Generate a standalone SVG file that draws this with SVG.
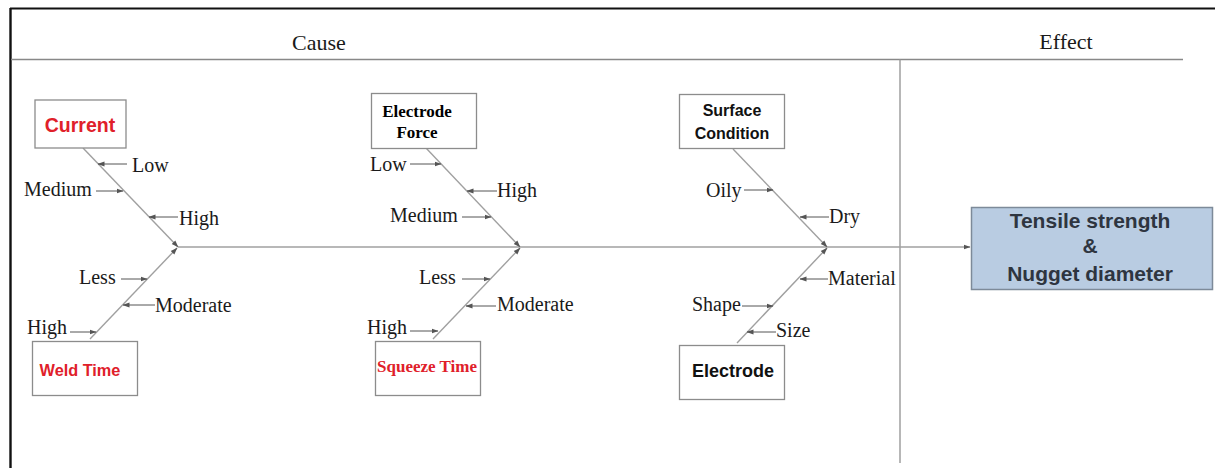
<svg xmlns="http://www.w3.org/2000/svg" width="1215" height="468" viewBox="0 0 1215 468">
<defs>
<marker id="ah" markerUnits="userSpaceOnUse" markerWidth="7" markerHeight="6" refX="6.5" refY="3" orient="auto">
<path d="M0,0.5 L7,3 L0,5.5 z" fill="#555"/>
</marker>
<style>
.lbl{font-family:"Liberation Serif","Times New Roman",serif;font-size:20px;fill:#1a1a1a}
.hdr{font-family:"Liberation Serif","Times New Roman",serif;font-size:22px;fill:#1a1a1a;text-anchor:middle}
.box{fill:#fff;stroke:#8c8c8c;stroke-width:1.3}
.bone{stroke:#a0a0a0;stroke-width:1.4;fill:none}
.tick{stroke:#555;stroke-width:1;fill:none;marker-end:url(#ah)}
.sans{font-family:"Liberation Sans",Arial,sans-serif;font-weight:bold;text-anchor:middle}
.serb{font-family:"Liberation Serif","Times New Roman",serif;font-weight:bold;text-anchor:middle}
.red{fill:#e0202a}
</style>
</defs>
<rect width="1215" height="468" fill="#fff"/>
<g id="frame">
<line x1="10" y1="8.5" x2="1215" y2="8.5" stroke="#111" stroke-width="2.2"/>
<line x1="10.5" y1="8" x2="10.5" y2="468" stroke="#111" stroke-width="2.4"/>
<line x1="11" y1="59.5" x2="1183" y2="59.5" stroke="#888" stroke-width="1.3"/>
<line x1="900" y1="59.5" x2="900" y2="463" stroke="#999" stroke-width="1.4"/>
<text class="hdr" x="319" y="50">Cause</text>
<text class="hdr" x="1066" y="49">Effect</text>
</g>
<g id="connectors">
<line class="bone" x1="178" y1="247" x2="970" y2="247" style="marker-end:url(#ah)"/>
<line class="bone" x1="83" y1="148" x2="178" y2="247" style="marker-end:url(#ah)"/>
<line class="bone" x1="90" y1="339" x2="177" y2="248" style="marker-end:url(#ah)"/>
<line class="bone" x1="426" y1="148" x2="520" y2="247" style="marker-end:url(#ah)"/>
<line class="bone" x1="433" y1="339" x2="520" y2="248" style="marker-end:url(#ah)"/>
<line class="bone" x1="733" y1="149" x2="827" y2="247" style="marker-end:url(#ah)"/>
<line class="bone" x1="737" y1="343" x2="827" y2="248" style="marker-end:url(#ah)"/>
<line class="tick" x1="127" y1="164" x2="98" y2="164"/>
<line class="tick" x1="96" y1="191" x2="123" y2="191"/>
<line class="tick" x1="178" y1="217" x2="149" y2="217"/>
<line class="tick" x1="121" y1="279" x2="147" y2="279"/>
<line class="tick" x1="155" y1="305" x2="123" y2="305"/>
<line class="tick" x1="70" y1="332" x2="96" y2="332"/>
<line class="tick" x1="410" y1="164" x2="441" y2="164"/>
<line class="tick" x1="497" y1="191" x2="467" y2="191"/>
<line class="tick" x1="462" y1="217" x2="491" y2="217"/>
<line class="tick" x1="462" y1="279" x2="490" y2="279"/>
<line class="tick" x1="496" y1="306" x2="466" y2="306"/>
<line class="tick" x1="410" y1="331" x2="438" y2="331"/>
<line class="tick" x1="744" y1="190" x2="773" y2="190"/>
<line class="tick" x1="829" y1="217" x2="800" y2="217"/>
<line class="tick" x1="828" y1="279" x2="800" y2="279"/>
<line class="tick" x1="742" y1="306" x2="773" y2="306"/>
<line class="tick" x1="776" y1="332" x2="747" y2="332"/>
</g>
<g id="labels">
<text class="lbl" x="132" y="172">Low</text>
<text class="lbl" x="24" y="196">Medium</text>
<text class="lbl" x="179" y="225">High</text>
<text class="lbl" x="79" y="284">Less</text>
<text class="lbl" x="155" y="312">Moderate</text>
<text class="lbl" x="27" y="334">High</text>
<text class="lbl" x="370" y="171">Low</text>
<text class="lbl" x="497" y="197">High</text>
<text class="lbl" x="390" y="222">Medium</text>
<text class="lbl" x="419" y="284">Less</text>
<text class="lbl" x="497" y="311">Moderate</text>
<text class="lbl" x="367" y="334">High</text>
<text class="lbl" x="706" y="197">Oily</text>
<text class="lbl" x="829" y="223">Dry</text>
<text class="lbl" x="828" y="285">Material</text>
<text class="lbl" x="692" y="311">Shape</text>
<text class="lbl" x="776" y="337">Size</text>
</g>
<g id="current">
<rect class="box" x="35" y="100" width="91" height="48"/>
<text class="sans red" x="80" y="132" font-size="19.5">Current</text>
</g>
<g id="weld-time">
<rect class="box" x="32.5" y="341.5" width="105" height="54"/>
<text class="sans red" x="80" y="376" font-size="16.3">Weld Time</text>
</g>
<g id="electrode-force">
<rect class="box" x="371.5" y="93.5" width="105" height="55"/>
<text class="serb" x="417" y="117" font-size="17">Electrode</text>
<text class="serb" x="417" y="138" font-size="17">Force</text>
</g>
<g id="squeeze-time">
<rect class="box" x="375.5" y="341.5" width="105" height="54"/>
<text class="serb red" x="427" y="372" font-size="17">Squeeze Time</text>
</g>
<g id="surface-condition">
<rect class="box" x="679.5" y="94.5" width="105" height="54"/>
<text class="sans" x="732" y="116" font-size="16" fill="#111">Surface</text>
<text class="sans" x="732" y="139" font-size="16" fill="#111">Condition</text>
</g>
<g id="electrode">
<rect class="box" x="679.5" y="345.5" width="105" height="54"/>
<text class="sans" x="733" y="377" font-size="18" fill="#111">Electrode</text>
</g>
<g id="effect">
<rect x="971.5" y="207.5" width="241" height="82" fill="#b9cce2" stroke="#7d8a99" stroke-width="1.5"/>
<text class="sans" x="1090" y="228" font-size="21" fill="#2e3540">Tensile strength</text>
<text class="sans" x="1090" y="253" font-size="21" fill="#2e3540">&amp;</text>
<text class="sans" x="1090" y="281" font-size="21" fill="#2e3540">Nugget diameter</text>
</g>
</svg>
